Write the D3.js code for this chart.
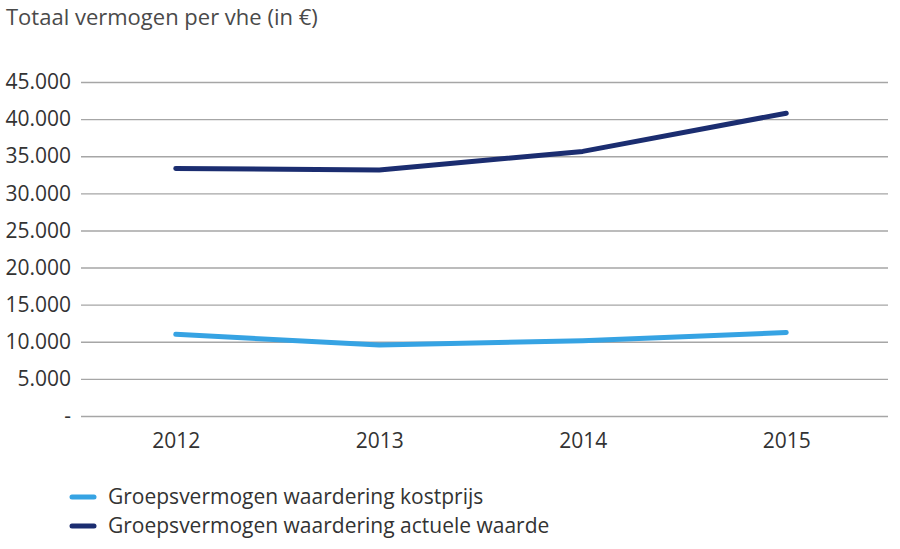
<!DOCTYPE html>
<html><head><meta charset="utf-8">
<script src="https://cdn.jsdelivr.net/npm/d3@7"></script>
<style>
html,body{margin:0;padding:0;background:#fff;}
svg{display:block;font-family:"Open Sans",sans-serif;}
</style></head>
<body><svg id="c" width="900" height="549"></svg>
<script>
const years = ["2012","2013","2014","2015"];
const kostprijs = [11000, 9570, 10150, 11250];
const actueleWaarde = [33350, 33150, 35650, 40800];
const yTicks = [0,5000,10000,15000,20000,25000,30000,35000,40000,45000];
const seriesNames = ["Groepsvermogen waardering kostprijs","Groepsvermogen waardering actuele waarde"];
const seriesColors = ["#36a3e3","#1b2d70"];
const title = "Totaal vermogen per vhe (in €)";

const svg = d3.select("#c");
const loc = d3.formatLocale({decimal:",", thousands:".", grouping:[3], currency:["€",""]});
const fmt = v => v === 0 ? "-" : loc.format(",.0f")(v);

const x = d3.scalePoint().domain(years).range([74,888]).padding(0.5);
const y = d3.scaleLinear().domain([0,45000]).range([416,82]);

svg.append("text").attr("x",6).attr("y",25).attr("fill","#4a4a4a")
  .attr("font-size",22).text(title);

const yAxis = svg.append("g").attr("transform","translate(81,0)")
  .call(d3.axisLeft(y).tickValues(yTicks).tickFormat(fmt).tickSize(-807).tickPadding(10));
yAxis.select(".domain").remove();
yAxis.selectAll(".tick line").attr("stroke","#a6a6a6").attr("stroke-width",1.4);
yAxis.selectAll(".tick text").attr("font-size",21).attr("fill","#333").attr("font-family","'Open Sans',sans-serif");

const xAxis = svg.append("g").attr("transform","translate(0,416)")
  .call(d3.axisBottom(x).tickSize(0).tickPadding(17));
xAxis.select(".domain").remove();
xAxis.selectAll(".tick text").attr("font-size",21).attr("fill","#333").attr("font-family","'Open Sans',sans-serif");

const line = d3.line().x((d,i)=>x(years[i])).y(d=>y(d));
[kostprijs, actueleWaarde].forEach((s,i)=>{
  svg.append("path").datum(s).attr("d",line).attr("fill","none")
    .attr("stroke",seriesColors[i]).attr("stroke-width",5)
    .attr("stroke-linecap","round").attr("stroke-linejoin","round");
});

const leg = svg.append("g");
seriesNames.forEach((n,i)=>{
  const yy = 497 + i*29;
  leg.append("line").attr("x1",72).attr("x2",94).attr("y1",yy).attr("y2",yy)
    .attr("stroke",seriesColors[i]).attr("stroke-width",5).attr("stroke-linecap","round");
  leg.append("text").attr("x",108).attr("y",yy+7).attr("font-size",21).attr("fill","#333").text(n);
});
</script></body></html>
